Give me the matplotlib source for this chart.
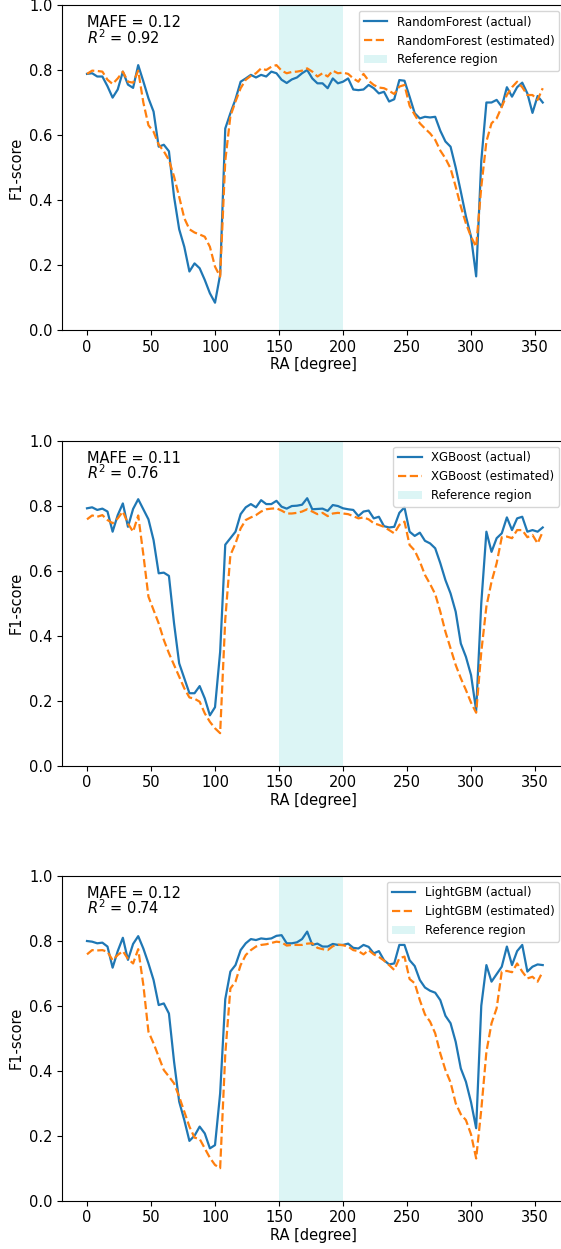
import numpy as np
import matplotlib
matplotlib.use("Agg")
import matplotlib.pyplot as plt

# ---- data ------------------------------------------------------------
ra = np.arange(0, 360, 4)

rf_actual = [
    0.788, 0.79, 0.78, 0.78, 0.75, 0.715, 0.74, 0.795, 0.755, 0.745,
    0.815, 0.765, 0.713, 0.672, 0.564, 0.57, 0.55, 0.41, 0.31, 0.256,
    0.18, 0.205, 0.19, 0.154, 0.113, 0.084, 0.17, 0.62, 0.667, 0.71,
    0.764, 0.774, 0.785, 0.777, 0.785, 0.78, 0.795, 0.79, 0.77, 0.76,
    0.771, 0.777, 0.79, 0.80, 0.774, 0.759, 0.759, 0.744, 0.774, 0.759,
    0.764, 0.774, 0.74, 0.738, 0.74, 0.754, 0.744, 0.728, 0.733, 0.703,
    0.71, 0.769, 0.767, 0.718, 0.667, 0.651, 0.656, 0.654, 0.656, 0.613,
    0.58, 0.564, 0.50, 0.426, 0.35, 0.287, 0.165, 0.52, 0.70, 0.70,
    0.708, 0.687, 0.747, 0.718, 0.747, 0.761, 0.728, 0.668, 0.72, 0.70,
]
rf_est = [
    0.788, 0.798, 0.797, 0.795, 0.77, 0.757, 0.774, 0.795, 0.764, 0.761,
    0.798, 0.70, 0.63, 0.61, 0.57, 0.55, 0.523, 0.472, 0.41, 0.344,
    0.31, 0.30, 0.294, 0.287, 0.256, 0.195, 0.164, 0.52, 0.658, 0.703,
    0.744, 0.77, 0.782, 0.79, 0.805, 0.80, 0.81, 0.815, 0.798, 0.79,
    0.794, 0.795, 0.798, 0.805, 0.795, 0.78, 0.79, 0.78, 0.798, 0.79,
    0.792, 0.788, 0.774, 0.764, 0.788, 0.767, 0.754, 0.746, 0.744, 0.736,
    0.726, 0.749, 0.754, 0.69, 0.662, 0.636, 0.62, 0.605, 0.585, 0.552,
    0.528, 0.497, 0.441, 0.38, 0.328, 0.287, 0.256, 0.44, 0.58, 0.636,
    0.651, 0.687, 0.723, 0.747, 0.764, 0.747, 0.723, 0.723, 0.708, 0.744,
]

xgb_actual = [
    0.792, 0.795, 0.787, 0.791, 0.782, 0.72, 0.771, 0.807, 0.735, 0.79,
    0.82, 0.789, 0.758, 0.694, 0.592, 0.594, 0.584, 0.438, 0.315, 0.269,
    0.223, 0.223, 0.245, 0.207, 0.155, 0.18, 0.35, 0.68, 0.70, 0.72,
    0.774, 0.795, 0.805, 0.795, 0.817, 0.805, 0.805, 0.815, 0.797, 0.791,
    0.799, 0.80, 0.803, 0.823, 0.789, 0.79, 0.791, 0.784, 0.802, 0.799,
    0.792, 0.789, 0.787, 0.768, 0.782, 0.785, 0.761, 0.766, 0.737, 0.733,
    0.735, 0.778, 0.795, 0.72, 0.707, 0.717, 0.692, 0.684, 0.669, 0.623,
    0.571, 0.53, 0.474, 0.376, 0.335, 0.279, 0.17, 0.50, 0.72, 0.658,
    0.70, 0.715, 0.764, 0.725, 0.761, 0.766, 0.72, 0.725, 0.72, 0.733,
]
xgb_est = [
    0.758, 0.77, 0.766, 0.771, 0.756, 0.746, 0.761, 0.782, 0.745, 0.72,
    0.77, 0.65, 0.52, 0.479, 0.438, 0.387, 0.346, 0.31, 0.274, 0.238,
    0.21, 0.206, 0.197, 0.161, 0.135, 0.115, 0.10, 0.45, 0.648, 0.684,
    0.73, 0.756, 0.764, 0.771, 0.782, 0.789, 0.791, 0.792, 0.785, 0.776,
    0.776, 0.778, 0.782, 0.789, 0.782, 0.774, 0.778, 0.768, 0.776, 0.778,
    0.776, 0.774, 0.768, 0.761, 0.764, 0.758, 0.746, 0.741, 0.735, 0.725,
    0.715, 0.741, 0.751, 0.679, 0.662, 0.628, 0.587, 0.559, 0.528, 0.474,
    0.412, 0.361, 0.31, 0.269, 0.233, 0.194, 0.163, 0.35, 0.49, 0.566,
    0.623, 0.703, 0.705, 0.70, 0.725, 0.725, 0.703, 0.71, 0.684, 0.72,
]

lgbm_actual = [
    0.799, 0.797, 0.792, 0.794, 0.782, 0.717, 0.768, 0.809, 0.741, 0.79,
    0.814, 0.776, 0.73, 0.679, 0.602, 0.607, 0.576, 0.428, 0.305, 0.248,
    0.184, 0.20, 0.228, 0.207, 0.161, 0.171, 0.33, 0.62, 0.705, 0.725,
    0.771, 0.792, 0.805, 0.802, 0.807, 0.805, 0.807, 0.815, 0.817, 0.792,
    0.792, 0.795, 0.805, 0.828, 0.787, 0.791, 0.782, 0.782, 0.79, 0.787,
    0.787, 0.791, 0.778, 0.776, 0.787, 0.781, 0.761, 0.768, 0.74, 0.727,
    0.73, 0.787, 0.787, 0.74, 0.722, 0.679, 0.656, 0.646, 0.64, 0.617,
    0.569, 0.546, 0.489, 0.407, 0.366, 0.303, 0.223, 0.60, 0.725, 0.674,
    0.697, 0.72, 0.782, 0.725, 0.768, 0.787, 0.705, 0.72, 0.727, 0.725,
]
lgbm_est = [
    0.758, 0.771, 0.77, 0.771, 0.766, 0.74, 0.756, 0.768, 0.744, 0.73,
    0.774, 0.664, 0.52, 0.484, 0.443, 0.402, 0.382, 0.361, 0.32, 0.274,
    0.228, 0.194, 0.19, 0.161, 0.132, 0.11, 0.10, 0.45, 0.653, 0.674,
    0.725, 0.756, 0.771, 0.782, 0.787, 0.789, 0.793, 0.797, 0.795, 0.785,
    0.787, 0.787, 0.787, 0.791, 0.792, 0.778, 0.774, 0.771, 0.783, 0.788,
    0.786, 0.782, 0.771, 0.768, 0.758, 0.771, 0.758, 0.75, 0.739, 0.725,
    0.71, 0.746, 0.751, 0.682, 0.669, 0.617, 0.573, 0.551, 0.515, 0.453,
    0.402, 0.364, 0.30, 0.266, 0.248, 0.204, 0.13, 0.28, 0.458, 0.546,
    0.592, 0.705, 0.707, 0.703, 0.73, 0.705, 0.684, 0.689, 0.674, 0.705,
]

models = ["RandomForest", "XGBoost", "LightGBM"]
mafe = [0.12, 0.11, 0.12]
r2 = [0.92, 0.76, 0.74]
ref_region = (150, 200)

actuals = [rf_actual, xgb_actual, lgbm_actual]
estimates = [rf_est, xgb_est, lgbm_est]

# ---- figure ----------------------------------------------------------
fig = plt.figure(figsize=(5.61, 12.49), dpi=100)

# axes boxes in pixels -> figure fractions (right spine falls just past the image edge)
W, H = 561.0, 1249.0
left, right = 62.3, 565.0
tops = [5.0, 440.7, 875.7]
height_px = 325.0

for i, name in enumerate(models):
    top = tops[i]
    ax = fig.add_axes([left / W, 1 - (top + height_px) / H,
                       (right - left) / W, height_px / H])
    ax.plot(ra, actuals[i], color="tab:blue", lw=1.6, label=f"{name} (actual)")
    ax.plot(ra, estimates[i], color="tab:orange", lw=1.6, ls="--",
            label=f"{name} (estimated)")
    ax.axvspan(ref_region[0], ref_region[1], color="#dcf5f5", lw=0,
               label="Reference region", zorder=0)
    ax.set_xlim(-19.3, 373.4)
    ax.set_ylim(0, 1)
    ax.set_xticks([0, 50, 100, 150, 200, 250, 300, 350])
    ax.set_yticks([0.0, 0.2, 0.4, 0.6, 0.8, 1.0])
    ax.set_xlabel("RA [degree]", fontsize=10.5, labelpad=2)
    ax.set_ylabel("F1-score", fontsize=10.5)
    ax.tick_params(labelsize=10.5)
    ax.text(0.05, 0.968, f"MAFE = {mafe[i]:.2f}\n$R^2$ = {r2[i]:.2f}",
            transform=ax.transAxes, va="top", ha="left", fontsize=10.5,
            linespacing=0.85)
    ax.legend(loc="upper right", fontsize=8.5)

fig.savefig("out.png", dpi=100)
